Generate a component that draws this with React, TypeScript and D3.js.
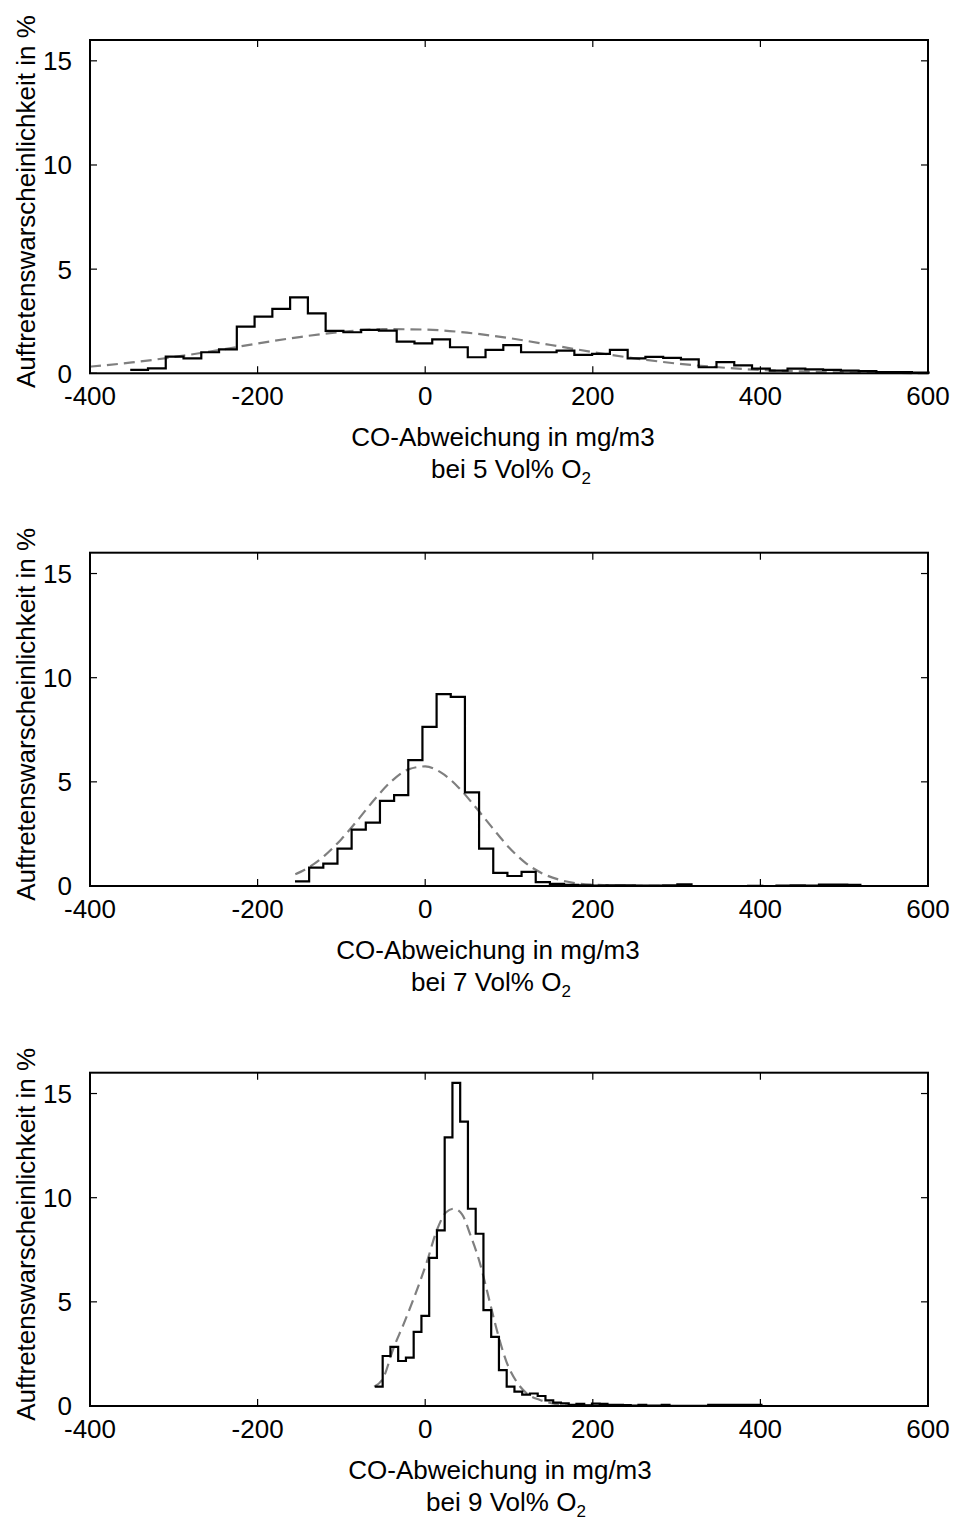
import React from 'react';
import * as d3 from 'd3';

// ---- axes ----
const xTicks = [-400, -200, 0, 200, 400, 600];
const yTicks = [0, 5, 10, 15];
const xDomain: [number, number] = [-400, 600];
const yDomain: [number, number] = [0, 16];
const xAxisTitle = 'CO-Abweichung in mg/m3';
const yAxisTitle = 'Auftretenswarscheinlichkeit in %';
const o2Levels = ['5', '7', '9'];

// ---- panel 1: 5 Vol% O2 ----
const hist5Start = -352;
const hist5Width = 21.2;
const hist5Values = [
  0.16, 0.24, 0.8, 0.72, 1.01, 1.15, 2.24, 2.72, 3.09, 3.64, 2.88, 2.04, 1.97, 2.08, 2.05,
  1.52, 1.44, 1.63, 1.25, 0.77, 1.12, 1.35, 1.01, 1.01, 1.09, 0.88, 0.93, 1.12, 0.72, 0.79,
  0.74, 0.67, 0.29, 0.54, 0.38, 0.22, 0.13, 0.22, 0.19, 0.16, 0.13, 0.1, 0.06, 0.06, 0.03,
];
const fit5X = [-400, -350, -300, -250, -200, -150, -100, -50, 0, 50, 100, 150, 200, 250, 300, 350, 400, 450, 500, 550, 600];
const fit5Y = [0.32, 0.52, 0.78, 1.09, 1.43, 1.74, 1.99, 2.12, 2.1, 1.95, 1.69, 1.36, 1.02, 0.72, 0.47, 0.29, 0.16, 0.09, 0.04, 0.02, 0.01];

// ---- panel 2: 7 Vol% O2 ----
const hist7Start = -155.4;
const hist7Width = 16.9;
const hist7Values = [
  0.22, 0.88, 1.07, 1.79, 2.71, 3.04, 4.09, 4.36, 6.04, 7.64, 9.21, 9.08, 4.49, 1.79, 0.63,
  0.48, 0.68, 0.19, 0.1, 0.05, 0.03, 0.02, 0.03, 0.03, 0.02, 0.02, 0.03, 0.08, 0.0, 0.0,
  0.0, 0.0, 0.01, 0.0, 0.02, 0.03, 0.02, 0.07, 0.07, 0.06,
];
const fit7X = [-155, -140, -120, -100, -80, -60, -40, -20, 0, 20, 40, 60, 80, 100, 120, 140, 160, 180, 200, 250, 300, 400, 520];
const fit7Y = [0.56, 0.87, 1.46, 2.25, 3.19, 4.18, 5.04, 5.6, 5.74, 5.42, 4.72, 3.79, 2.8, 1.85, 1.1, 0.6, 0.3, 0.13, 0.06, 0.01, 0, 0, 0];

// ---- panel 3: 9 Vol% O2 ----
const hist9Start = -60;
const hist9Width = 9.25;
const hist9Values = [
  0.93, 2.4, 2.84, 2.16, 2.32, 3.56, 4.33, 7.11, 8.43, 12.9, 15.51, 13.65, 9.47, 8.27, 4.6,
  3.32, 1.72, 0.93, 0.69, 0.55, 0.6, 0.48, 0.27, 0.16, 0.13, 0.06, 0.1, 0.03, 0.11, 0.1,
  0.06, 0.06, 0.04, 0.02, 0.05, 0.02, 0.02, 0.05, 0.01, 0.01, 0.01, 0.01, 0.01, 0.06, 0.06,
  0.06, 0.06, 0.05, 0.06, 0.05,
];
const fit9X = [-61, -50, -38, -26, -14, 2, 14, 25, 34, 44, 54, 65, 69, 77, 85, 97, 109, 121, 137, 155, 170, 250, 400];
const fit9Y = [0.93, 1.35, 2.76, 3.91, 5.13, 6.92, 8.45, 9.3, 9.47, 9.2, 8.2, 6.9, 6.3, 5.0, 3.72, 2.12, 1.17, 0.61, 0.29, 0.1, 0.03, 0, 0];

const FONT = '"Liberation Sans", Arial, Helvetica, sans-serif';

type PanelProps = {
  top: number;
  start: number;
  width: number;
  values: number[];
  fitX: number[];
  fitY: number[];
  level: string;
  cx1: number;
  cx2: number;
};

const LEFT = 90;
const RIGHT = 928;
const PH = 333.3;

function Panel({ top, start, width, values, fitX, fitY, level, cx1, cx2 }: PanelProps) {
  const bottom = top + PH;
  const x = d3.scaleLinear().domain(xDomain).range([LEFT, RIGHT]);
  const y = d3.scaleLinear().domain(yDomain).range([bottom, top]);

  const stepPts: [number, number][] = values.map((v, i) => [start + i * width, v]);
  stepPts.push([start + values.length * width, values[values.length - 1]]);
  const stepLine = d3
    .line<[number, number]>()
    .x((d) => x(d[0]))
    .y((d) => y(d[1]))
    .curve(d3.curveStepAfter);

  const fitPts: [number, number][] = fitX.map((v, i) => [v, fitY[i]]);
  const fitLine = d3
    .line<[number, number]>()
    .x((d) => x(d[0]))
    .y((d) => y(d[1]))
    .curve(d3.curveMonotoneX);

  const tl = 7;
  return (
    <g>
      {/* ticks */}
      {xTicks.map((t) => (
        <g key={'xt' + t}>
          <line x1={x(t)} x2={x(t)} y1={bottom} y2={bottom - tl} stroke="#000" strokeWidth={1.2} />
          <line x1={x(t)} x2={x(t)} y1={top} y2={top + tl} stroke="#000" strokeWidth={1.2} />
          <text x={x(t)} y={bottom + 32} textAnchor="middle" fontSize={26} fontFamily={FONT} fill="#000">
            {t}
          </text>
        </g>
      ))}
      {yTicks.map((t) => (
        <g key={'yt' + t}>
          <line x1={LEFT} x2={LEFT + tl} y1={y(t)} y2={y(t)} stroke="#000" strokeWidth={1.2} />
          <line x1={RIGHT} x2={RIGHT - tl} y1={y(t)} y2={y(t)} stroke="#000" strokeWidth={1.2} />
          <text x={72} y={y(t)} dy="0.36em" textAnchor="end" fontSize={26} fontFamily={FONT} fill="#000">
            {t}
          </text>
        </g>
      ))}
      {/* fit curve */}
      <path d={fitLine(fitPts) || ''} fill="none" stroke="#7f7f7f" strokeWidth={2.2} strokeDasharray="11,6" />
      {/* histogram */}
      <path d={stepLine(stepPts) || ''} fill="none" stroke="#000" strokeWidth={2.2} />
      {/* frame */}
      <rect x={LEFT} y={top} width={RIGHT - LEFT} height={PH} fill="none" stroke="#000" strokeWidth={2} />
      {/* axis titles */}
      <text x={cx1} y={bottom + 73} textAnchor="middle" fontSize={26} fontFamily={FONT} fill="#000">
        {xAxisTitle}
      </text>
      <text x={cx2} y={bottom + 105} textAnchor="middle" fontSize={26} fontFamily={FONT} fill="#000">
        {`bei ${level} Vol% O`}
        <tspan fontSize={17} dy={6}>2</tspan>
      </text>
      <text
        transform={`translate(35, ${(top + bottom) / 2 - 5}) rotate(-90)`}
        textAnchor="middle"
        fontSize={26}
        fontFamily={FONT}
        fill="#000"
      >
        {yAxisTitle}
      </text>
    </g>
  );
}

export default function App() {
  return (
    <svg
      width={957}
      height={1522}
      style={{ position: 'absolute', left: 0, top: 0, background: '#fff', display: 'block' }}
    >
      <rect width={957} height={1522} fill="#fff" />
      <Panel top={40} start={hist5Start} width={hist5Width} values={hist5Values} fitX={fit5X} fitY={fit5Y} level={o2Levels[0]} cx1={503} cx2={511} />
      <Panel top={552.7} start={hist7Start} width={hist7Width} values={hist7Values} fitX={fit7X} fitY={fit7Y} level={o2Levels[1]} cx1={488} cx2={491} />
      <Panel top={1072.7} start={hist9Start} width={hist9Width} values={hist9Values} fitX={fit9X} fitY={fit9Y} level={o2Levels[2]} cx1={500} cx2={506} />
    </svg>
  );
}
